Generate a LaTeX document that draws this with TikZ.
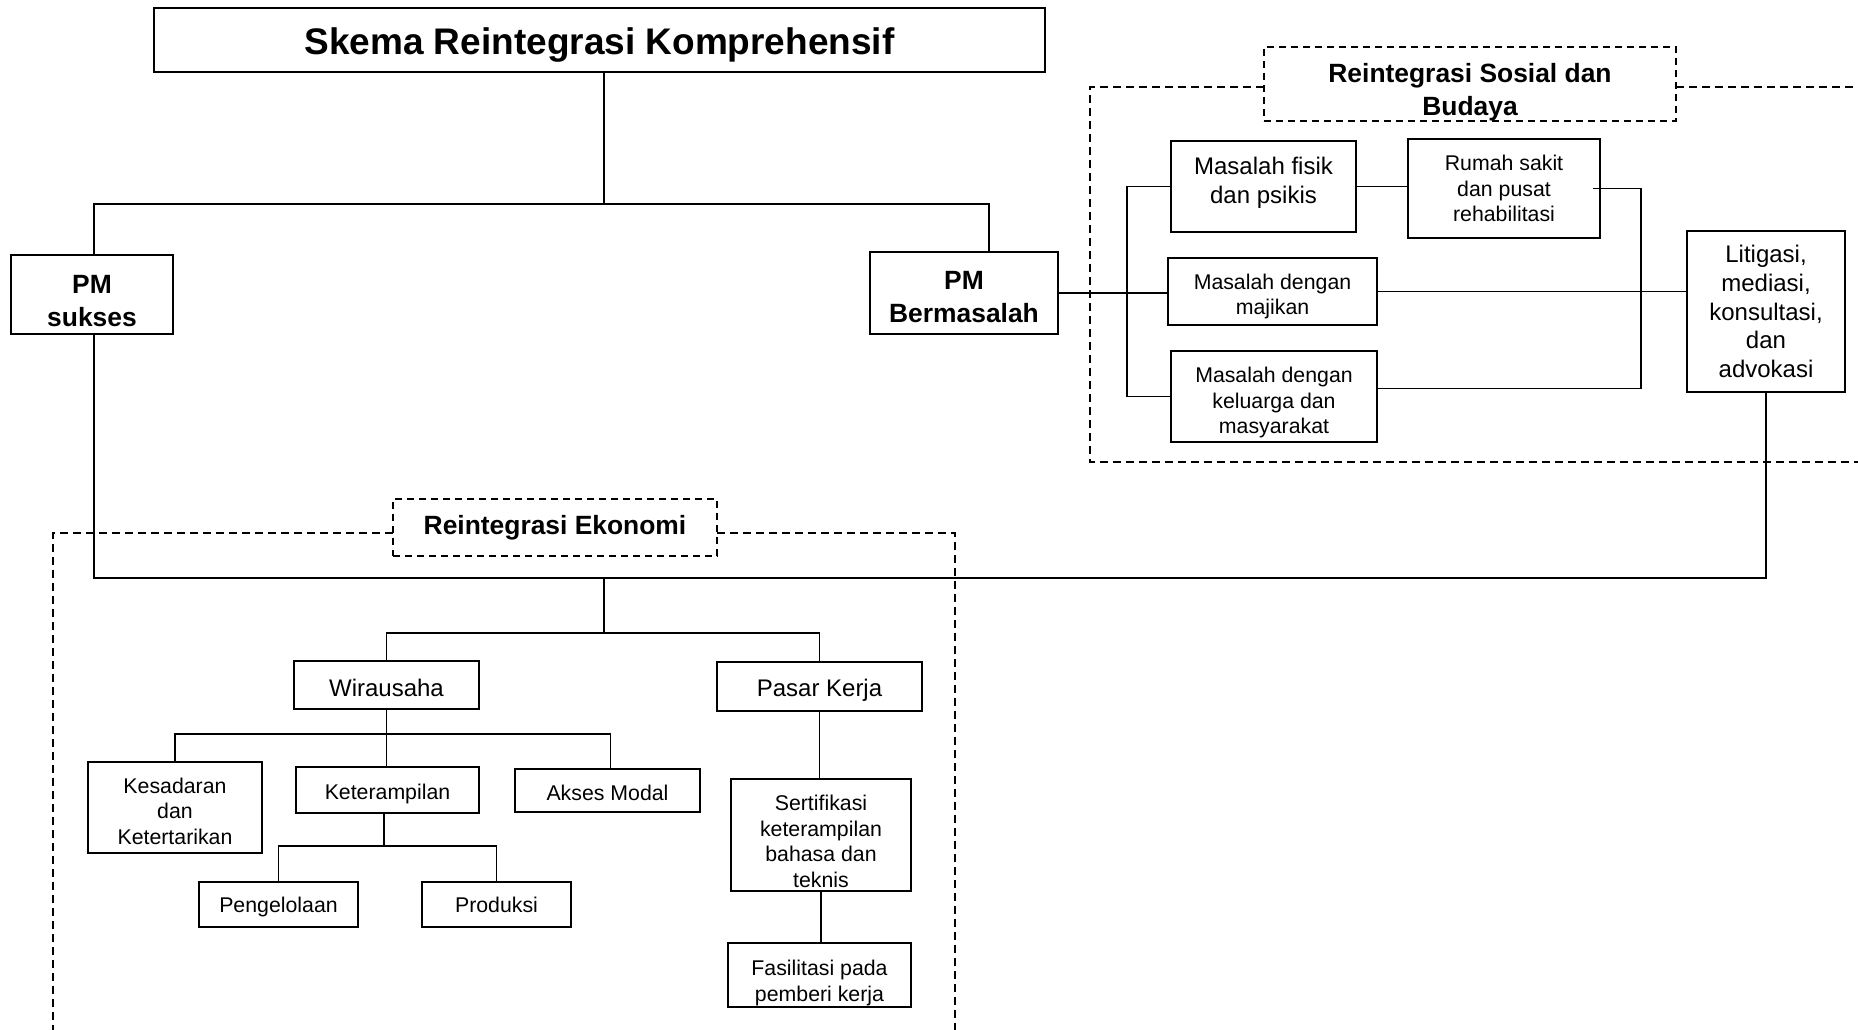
\documentclass[tikz,border=0pt]{standalone}
\usepackage{fontspec}
\setmainfont{Liberation Sans}

\newcommand{\tbesar}{\fontsize{37pt}{44pt}\selectfont\bfseries}
\newcommand{\tjudul}{\fontsize{26.4pt}{33pt}\selectfont\bfseries}
\newcommand{\tsedang}{\fontsize{24pt}{28.6pt}\selectfont}
\newcommand{\tkecil}{\fontsize{21.3pt}{25.5pt}\selectfont}
% penyangga tinggi baris pertama / kedalaman baris terakhir
\newcommand{\ruang}[1]{\rule{0pt}{#1pt}}
\newcommand{\bawah}[1]{\rule[-#1pt]{0pt}{#1pt}}

\begin{document}
\begin{tikzpicture}[x=1pt, y=-1pt,
    kotak/.style={draw, line width=1.6pt, inner sep=0pt, align=center},
    kotakputus/.style={kotak, dash pattern=on 7pt off 5pt},
    garis/.style={line width=1.4pt},
    batas/.style={line width=1.5pt, dash pattern=on 8pt off 5pt}]
            \useasboundingbox (0,0) rectangle (1858,1030);

            \node[kotak, font=\tbesar, minimum width=891pt, minimum height=64pt] (judul) at (599.5,40) {\ruang{36.4}Skema Reintegrasi Komprehensif};
            \node[kotak, font=\tjudul, minimum width=162pt, minimum height=79pt] (pmsukses) at (92,294.5) {\ruang{31}PM\\sukses};
            \node[kotak, font=\tjudul, minimum width=188pt, minimum height=82pt] (pmmasalah) at (964,293) {\ruang{26}PM\\Bermasalah};

            % reintegrasi sosial dan budaya
            \node[kotakputus, font=\tjudul, minimum width=412pt, minimum height=74pt] (sosial) at (1470,84) {\ruang{34.7}Reintegrasi Sosial dan\\Budaya};
            \node[kotak, font=\tsedang, minimum width=185pt, minimum height=91pt] (fisik) at (1263.5,186.5) {Masalah fisik\\dan psikis\bawah{12}};
            \node[kotak, font=\tkecil, minimum width=192pt, minimum height=99pt] (rumahsakit) at (1504,188.5) {Rumah sakit\\dan pusat\\rehabilitasi};
            \node[kotak, font=\tkecil, minimum width=209pt, minimum height=67pt] (majikan) at (1272.5,291.5) {\ruang{25}Masalah dengan\\majikan};
            \node[kotak, font=\tkecil, minimum width=206pt, minimum height=91pt] (keluarga) at (1274,396.5) {\ruang{27.5}Masalah dengan\\keluarga dan\\masyarakat};
            \node[kotak, font=\tsedang, minimum width=158pt, minimum height=161pt] (litigasi) at (1766,311.5) {Litigasi,\\mediasi,\\konsultasi,\\dan\\advokasi};
            \draw[batas] (1264,87) -- (1090,87) -- (1090,462) -- (1858,462);
            \draw[batas] (1676,87) -- (1858,87);

            % reintegrasi ekonomi
            \node[kotakputus, font=\tjudul, minimum width=324pt, minimum height=57pt] (ekonomi) at (555,527.5) {Reintegrasi Ekonomi};
            \node[kotak, font=\tsedang, minimum width=185pt, minimum height=48pt] (wirausaha) at (386.5,685) {\ruang{22.3}Wirausaha};
            \node[kotak, font=\tsedang, minimum width=205pt, minimum height=49pt] (pasar) at (819.5,686.5) {\ruang{24.5}Pasar Kerja};
            \node[kotak, font=\tkecil, minimum width=174pt, minimum height=91pt] (kesadaran) at (175,807.5) {\ruang{22.5}Kesadaran\\dan\\Ketertarikan};
            \node[kotak, font=\tkecil, minimum width=183pt, minimum height=46pt] (terampil) at (387.5,790) {\ruang{22.5}Keterampilan};
            \node[kotak, font=\tkecil, minimum width=185pt, minimum height=43pt] (modal) at (607.5,790.5) {\ruang{20.3}Akses Modal};
            \node[kotak, font=\tkecil, minimum width=159pt, minimum height=45pt] (kelola) at (278.5,904.5) {\ruang{20.3}Pengelolaan};
            \node[kotak, font=\tkecil, minimum width=149pt, minimum height=45pt] (produksi) at (496.5,904.5) {Produksi};
            \node[kotak, font=\tkecil, minimum width=180pt, minimum height=112pt] (sertifikasi) at (821,835) {\ruang{28.5}Sertifikasi\\keterampilan\\bahasa dan\\teknis};
            \node[kotak, font=\tkecil, minimum width=183pt, minimum height=64pt] (fasilitasi) at (819.5,975) {\ruang{31}Fasilitasi pada\\pemberi kerja};
            \draw[batas] (393,533) -- (53,533) -- (53,1030);
            \draw[batas] (717,533) -- (955,533) -- (955,1030);

            \coordinate (c1) at (604,204);
            \coordinate (c2) at (604,578);
            \coordinate (c3) at (604,633);
            \coordinate (c4) at (386,734);
            \coordinate (c5) at (384,846);
            \coordinate (c6) at (1127,291);
            \coordinate (c7) at (1641,290);

            \draw[garis] (judul.south -| c1) -- (c1);
            \draw[garis] ([xshift=2pt]pmsukses.north) |- (c1) -| ([xshift=25pt]pmmasalah.north);
            \draw[garis] ([xshift=2pt]pmsukses.south) |- (c2) -| (litigasi.south);
            \draw[garis] (c2) -- (c3);
            \draw[garis] (wirausaha.north) |- (c3) -| (pasar.north);
            \draw[garis] (wirausaha.south) -- (wirausaha.south |- terampil.north);
            \draw[garis] (kesadaran.north) |- (c4) -| ([xshift=3pt]modal.north);
            \draw[garis] (terampil.south -| c5) -- (c5);
            \draw[garis] (kelola.north) |- (c5) -| (produksi.north);
            \draw[garis] (pasar.south) -- (pasar.south |- sertifikasi.north);
            \draw[garis] (sertifikasi.south) -- (sertifikasi.south |- fasilitasi.north);

            \draw[garis] (pmmasalah.east) -- (pmmasalah.east -| majikan.west);
            \draw[garis] (fisik.west) -| (c6) |- (keluarga.west);
            \draw[garis] (fisik.east) -- (fisik.east -| rumahsakit.west);
            \draw[garis] ([xshift=-8pt]rumahsakit.east) -| (c7) |- ([yshift=8pt]keluarga.east);
            \draw[garis] (majikan.east) -- (majikan.east -| litigasi.west);
\end{tikzpicture}
\end{document}
